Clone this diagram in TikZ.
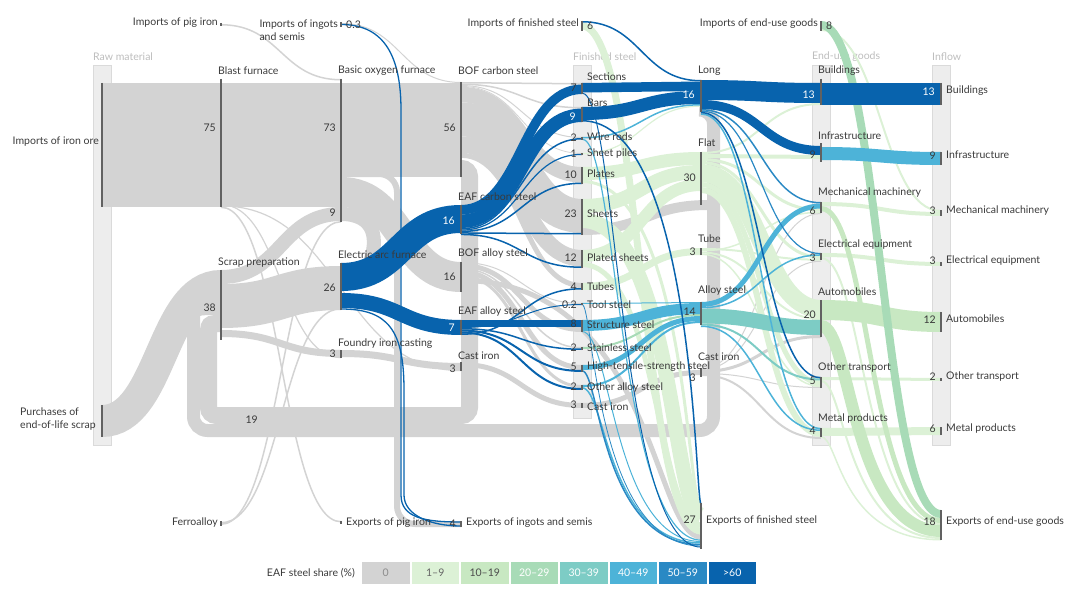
\documentclass[tikz,border=0pt]{standalone}
\usepackage{fontspec}
\setmainfont{Lato}
\usetikzlibrary{calc}

\definecolor{eaf0}{HTML}{D3D3D3}
\definecolor{eaf1}{HTML}{DCF1D6}
\definecolor{eaf2}{HTML}{C8E8C2}
\definecolor{eaf3}{HTML}{A8DBB7}
\definecolor{eaf4}{HTML}{7DCCC5}
\definecolor{eaf5}{HTML}{4DB3D8}
\definecolor{eaf6}{HTML}{2A89C4}
\definecolor{eaf7}{HTML}{0863AD}
\definecolor{ink}{HTML}{3A3A3A}
\definecolor{colbg}{HTML}{EDEDED}
\definecolor{colline}{HTML}{DADADA}
\definecolor{titlegrey}{HTML}{BDBDBD}

\newcommand{\lblfont}{\fontsize{10.5}{12.5}\selectfont}

\tikzset{
  knee/.store in=\kneefrac, knee=0.5,
  barline/.style={draw=black!62, line width=1.2pt},
  column/.style={fill=colbg, draw=colline, line width=0.5pt},
  coltitle/.style={anchor=west, inner sep=0pt, text=titlegrey, font=\lblfont},
  stagename/.style={anchor=west, inner sep=0pt, text=ink, font=\lblfont},
  sourcename/.style={anchor=east, inner sep=0pt, text=ink, font=\lblfont},
  amount/.style={anchor=east, inner sep=0pt, text=ink, font=\lblfont},
  keybox/.style={minimum width=47.5pt, minimum height=22.5pt, inner sep=0pt, font=\lblfont},
}

% a band: [colour] from node, offset, to node, offset, width
\newcommand{\steelflow}[6][]{%
  \draw[#1, line width=#6] let \p1=($(#2)+(0,#3+#6/2)$), \p2=($(#4)+(0,#5+#6/2)$),
    \p3=($(\p1)!\kneefrac!(\p2)$) in (\p1) .. controls (\x3,\y1) and (\x3,\y2) .. (\p2);}

% stages: name/x/top/height
\def\stagelist{ore/102/83/124, scrap/102/405/32,
  bf/221/79/128, prep/221/270/70, pigimp/221/23/3, ferro/221/521/5,
  bof/341/79/143, eaf/341/263/47, found/341/350/8, ingimp/341/22/5, pigexp/341/521/3,
  bofc/461/82/95, eafc/461/205/29, bofa/461/262/30, eafa/461/320/15, cast/461/362/9, ingexp/461/521/6,
  fsimp/582/21/10, sections/582/83/11, bars/582/107/15, wire/582/137/3, piles/582/153/2,
  plates/582/167/17, sheets/582/199/36, plated/582/250/18, tubes/582/283/7,
  tool/582/303/2, struct/582/320/12, stainl/582/347/3, hts/582/365/7, oalloy/582/385/5, fscast/582/403/5,
  long/701/80/32, flat/701/152/53, tube/701/248/7, alloy/701/302/23, cast2/701/368/9, fsexp/701/503/46,
  eugimp/821/21/10, bldg/821/79/26, infra/821/143/19, mm/821/202/11, ee/821/253/7,
  auto/821/300/37, ot/821/377/11, metal/821/428/9,
  inbldg/941/83/22, ininfra/941/152/13, inmm/941/210/6, inee/941/262/4,
  inauto/941/312/20, inot/941/378/3, inmetal/941/427/8, exeug/941/510/30}

\begin{document}
\begin{tikzpicture}[x=1pt, y=-1pt]
  \useasboundingbox (0,0) rectangle (1080,594);

  % Define the coordinates of the stages
  \foreach \name/\x/\y/\h in \stagelist
    \coordinate (\name) at (\x,\y);
  \coordinate (loopjoin) at (709,200);

  % Columns
  \draw[column] (93,65) rectangle (111,445);
  \draw[column] (573,65) rectangle (591,418);
  \draw[column] (812,65) rectangle (830,445);
  \draw[column] (932,65) rectangle (950,445);
  \node[coltitle] (rawtitle) at (93,57) {Raw material};
  \node[coltitle] (fstitle) at (573,57) {Finished steel};
  \node[coltitle] (eutitle) at (812,57) {End-use goods};
  \node[coltitle] (intitle) at (932,57) {Inflow};

  % Scrap loops
  \draw[eaf0, line width=13, rounded corners=14] ($(long)+(0,30)$) -- (713.5,110) -- (713.5,430.5)
    -- (193.5,430.5) -- (193.5,335) [sharp corners] .. controls (193.5,308.5) .. ($(prep)+(0,38.5)$);
  \draw[eaf0, line width=17, rounded corners=8] ($(bofc)+(0,86.5)$) -- (469.5,168.5) -- (469.5,415.5)
    -- (208.5,415.5) -- (208.5,345) [sharp corners] .. controls (208.5,323.5) .. ($(prep)+(0,53.5)$);
  \draw[eaf0, line width=6, rounded corners=18] ($(bof)+(0,95)$) -- (397,174) -- (397,524) -- ($(ingexp)+(0,3)$);
  \draw[eaf0, line width=14] ($(bof)+(0,135)$) .. controls (376,214) and (378,240) .. (370,262);

  % Grey flows (0 %)
  \steelflow[eaf0]{ore}{0}{bf}{4}{124}
  \steelflow[eaf0]{bf}{4}{bof}{4}{124}
  \steelflow[eaf0]{bof}{4}{bofc}{1}{94}
  \steelflow[eaf0]{bof}{98}{bofa}{0}{30}
  \steelflow[eaf0]{scrap}{0}{prep}{0}{32}
  \steelflow[eaf0]{prep}{0}{bof}{128}{14}
  \steelflow[eaf0]{prep}{14}{eaf}{3}{44}
  \steelflow[eaf0]{prep}{60}{found}{0}{7}
  \steelflow[eaf0]{found}{0}{cast}{1}{7}
  \steelflow[eaf0]{pigimp}{1}{bof}{0}{1.5}
  \steelflow[eaf0]{ingimp}{1}{bofc}{0}{1}
  \steelflow[eaf0]{bf}{125}{found}{7}{1.2}
  \steelflow[eaf0]{bf}{126.3}{cast}{8}{1.2}
  \steelflow[eaf0]{bf}{127.5}{pigexp}{0}{1.5}
  \steelflow[eaf0]{ferro}{1}{eaf}{45}{1.5}
  \steelflow[eaf0]{ferro}{2.5}{bof}{142}{1.5}
  \steelflow[eaf0]{bofc}{0}{sections}{0}{1.5}
  \steelflow[eaf0]{bofc}{1.5}{bars}{0}{1.5}
  \steelflow[eaf0]{bofc}{3}{wire}{0}{1}
  \steelflow[eaf0]{bofc}{4}{piles}{0}{0.8}
  \steelflow[eaf0]{bofc}{4.8}{plates}{0}{15.5}
  \steelflow[eaf0]{bofc}{20.3}{sheets}{0}{34}
  \steelflow[eaf0]{bofc}{54.3}{plated}{0}{16.5}
  \steelflow[eaf0]{bofc}{70.8}{tubes}{0}{5}
  \steelflow[eaf0]{bofa}{0}{tool}{0}{1}
  \steelflow[eaf0]{bofa}{1}{struct}{7}{5}
  \steelflow[eaf0]{bofa}{6}{stainl}{0}{1.5}
  \steelflow[eaf0]{bofa}{7.5}{hts}{0}{5}
  \steelflow[eaf0]{bofa}{12.5}{oalloy}{0}{3}
  \steelflow[eaf0, knee=0.8]{bofa}{16}{fsexp}{31.5}{5}
  \steelflow[eaf0]{cast}{0}{fscast}{0}{5}
  \steelflow[eaf0]{fscast}{0}{cast2}{2}{5}
  \steelflow[eaf0]{sheets}{26}{loopjoin}{0}{10}
  \steelflow[eaf0]{cast2}{0}{mm}{11}{1}
  \steelflow[eaf0]{cast2}{1}{ee}{7.7}{1}
  \steelflow[eaf0]{cast2}{2}{auto}{35}{3}
  \steelflow[eaf0]{cast2}{5}{ot}{10}{1}
  \steelflow[eaf0]{cast2}{6}{metal}{9}{2}

  % 1-9 %
  \steelflow[eaf1]{fsimp}{1.5}{fsexp}{24.5}{7}
  \steelflow[eaf1, knee=0.88]{plates}{13}{fsexp}{1.5}{3}
  \steelflow[eaf1, knee=0.76]{sheets}{14}{fsexp}{4.5}{15}
  \steelflow[eaf1, knee=0.64]{plated}{12}{fsexp}{19.5}{5}
  \steelflow[eaf1]{plates}{0}{flat}{0}{13}
  \steelflow[eaf1]{sheets}{0}{flat}{13}{14}
  \steelflow[eaf1]{plated}{0}{flat}{27}{12}
  \steelflow[eaf1]{tubes}{0}{tube}{0}{7}
  \steelflow[eaf1]{piles}{0}{long}{25.5}{1.2}
  \steelflow[eaf1]{flat}{0}{bldg}{24}{2}
  \steelflow[eaf1]{flat}{2}{infra}{12}{4}
  \steelflow[eaf1]{flat}{6}{mm}{6.5}{3}
  \steelflow[eaf1]{flat}{9}{ee}{2.7}{3}
  \steelflow[eaf1]{flat}{12}{auto}{0}{18}
  \steelflow[eaf1]{flat}{30}{ot}{3.5}{5}
  \steelflow[eaf1]{flat}{35}{metal}{3}{6}
  \steelflow[eaf1]{tube}{0}{ee}{5.7}{2}
  \steelflow[eaf1]{tube}{2}{mm}{9.5}{1.5}
  \steelflow[eaf1]{tube}{3.5}{auto}{18}{2}
  \steelflow[eaf1]{tube}{5.5}{ot}{8.5}{1.5}
  \steelflow[eaf1]{mm}{0}{inmm}{2}{4}
  \steelflow[eaf1]{ee}{0}{inee}{0}{4}
  \steelflow[eaf1]{ot}{0}{inot}{0}{3}
  \steelflow[eaf1]{metal}{0}{inmetal}{0}{8}
  \steelflow[eaf1, knee=0.35]{ee}{4}{exeug}{13}{2}
  \steelflow[eaf1, knee=0.2]{ot}{3}{exeug}{27}{2}
  \steelflow[eaf1, knee=0.15]{metal}{8}{exeug}{29}{1.5}
  \steelflow[eaf1]{eugimp}{8}{inmm}{0}{2}

  % 10-19 % and 20-29 %
  \steelflow[eaf2]{auto}{0}{inauto}{0}{20}
  \steelflow[eaf2, knee=0.25]{auto}{20}{exeug}{15}{12}
  \steelflow[eaf2, knee=0.4]{mm}{4}{exeug}{8}{5}
  \steelflow[eaf3]{eugimp}{0}{exeug}{0}{8}
  \steelflow[eaf3]{stainl}{0}{alloy}{12}{2}

  % 30-39 % and 40-49 %
  \steelflow[eaf4]{alloy}{6.5}{auto}{20}{15}
  \steelflow[eaf4]{alloy}{21.5}{ot}{1.5}{2}
  \steelflow[eaf5]{struct}{0}{alloy}{1}{11}
  \steelflow[eaf5]{tool}{0}{alloy}{0}{1}
  \steelflow[eaf5]{hts}{0}{alloy}{14}{5}
  \steelflow[eaf5]{oalloy}{0}{alloy}{19}{2}
  \steelflow[eaf5]{wire}{0}{long}{24}{1.5}
  \steelflow[eaf5]{alloy}{0}{mm}{1.5}{5}
  \steelflow[eaf5]{alloy}{5}{ee}{1.2}{1.5}
  \steelflow[eaf5]{alloy}{23.5}{metal}{1.5}{1.5}
  \steelflow[eaf5]{long}{33.2}{metal}{0}{1.5}
  \steelflow[eaf5]{infra}{4}{ininfra}{0}{13}
  \steelflow[eaf5, knee=0.3]{wire}{1.5}{fsexp}{36.5}{1.2}
  \steelflow[eaf5, knee=0.25]{struct}{11}{fsexp}{38}{1}
  \steelflow[eaf5, knee=0.2]{oalloy}{2}{fsexp}{39.2}{1.5}

  % 50-59 %
  \steelflow[eaf6]{long}{29}{mm}{0}{1.5}
  \steelflow[eaf6]{long}{30.5}{ee}{0}{1.2}
  \steelflow[eaf6, knee=0.15]{hts}{5}{fsexp}{40.9}{1.5}
  \steelflow[eaf6, knee=0.1]{tool}{1}{fsexp}{42.6}{0.8}

  % over 60 %
  \draw[eaf7, line width=1.3] ($(ingimp)+(0,2.5)$) .. controls (380,24.5) and (401,50) .. (401,110)
    -- (401,495) .. controls (401,518) and (425,522) .. ($(ingexp)+(0,1)$);
  \draw[eaf7, line width=1.3] ($(eaf)+(0,46)$) .. controls (388,309) and (404,330) .. (404,390)
    -- (404,495) .. controls (404,515) and (430,526) .. ($(ingexp)+(0,5)$);
  \steelflow[eaf7]{eaf}{0}{eafc}{0}{28}
  \steelflow[eaf7]{eaf}{30}{eafa}{0}{15}
  \steelflow[eaf7]{eafc}{0}{sections}{1.5}{9.5}
  \steelflow[eaf7]{eafc}{9.5}{bars}{1.5}{13.5}
  \steelflow[eaf7]{eafc}{23}{wire}{1}{1.5}
  \steelflow[eaf7]{eafc}{24.5}{piles}{0.8}{1.2}
  \steelflow[eaf7]{eafc}{25.7}{plates}{15.5}{1.5}
  \steelflow[eaf7]{eafc}{27.2}{sheets}{34}{1.5}
  \steelflow[eaf7]{eafc}{28.7}{plated}{16.5}{1.5}
  \steelflow[eaf7]{eafa}{0}{struct}{0}{7}
  \steelflow[eaf7]{eafa}{7}{tool}{1}{1}
  \steelflow[eaf7]{eafa}{8}{stainl}{1.5}{1.5}
  \steelflow[eaf7]{eafa}{9.5}{hts}{5}{2}
  \steelflow[eaf7]{eafa}{11.5}{oalloy}{3}{2}
  \steelflow[eaf7]{eafa}{13.5}{tubes}{5}{1.5}
  \steelflow[eaf7]{fsimp}{0}{long}{0}{1.5}
  \steelflow[eaf7]{sections}{0}{long}{1.5}{9.5}
  \steelflow[eaf7]{bars}{0}{long}{11}{13}
  \steelflow[eaf7, knee=0.95]{bars}{13}{fsexp}{0}{1.5}
  \steelflow[eaf7, knee=0.3]{sections}{9.5}{fsexp}{43.6}{1}
  \steelflow[eaf7]{long}{0}{bldg}{4}{20}
  \steelflow[eaf7]{long}{20}{infra}{3}{9}
  \steelflow[eaf7]{long}{31.7}{ot}{0}{1.5}
  \steelflow[eaf7]{bldg}{4}{inbldg}{0}{22}

  % Draw the stage bars
  \foreach \name/\x/\y/\h in \stagelist
    \draw[barline] (\name) -- ++(0,\h);

  % Stage names above the bars
  \foreach \name/\dy/\txt in {bf/-8/Blast furnace, bof/-8/Basic oxygen furnace,
      bofc/-11/BOF carbon steel, eafc/-8/EAF carbon steel, bofa/-8/BOF alloy steel,
      eafa/-8/EAF alloy steel, cast/-6/Cast iron, prep/-7/Scrap preparation,
      eaf/-8/Electric arc furnace, found/-6/Foundry iron casting,
      long/-9/Long, flat/-9/Flat, tube/-9/Tube, alloy/-11/Alloy steel, cast2/-11/Cast iron,
      bldg/-8/Buildings, infra/-7/Infrastructure, mm/-9/Mechanical machinery,
      ee/-8/Electrical equipment, auto/-8/Automobiles, ot/-9/Other transport, metal/-9/Metal products}
    \node[stagename] (name-\name) at ($(\name)+(-3,\dy)$) {\txt};

  % Names right of the bars
  \foreach \name/\dy/\txt in {sections/-6/Sections, bars/-4/Bars, wire/0/Wire rods,
      piles/1/Sheet piles, plates/7/Plates, sheets/15/Sheets, plated/8/Plated sheets,
      tubes/4/Tubes, tool/2/Tool steel, struct/5/Structure steel, stainl/1/Stainless steel,
      hts/2/High-tensile-strength steel, oalloy/3/Other alloy steel, fscast/4/Cast iron,
      fsexp/18/Exports of finished steel, pigexp/2/Exports of pig iron,
      ingexp/2/Exports of ingots and semis,
      inbldg/8/Buildings, ininfra/3/Infrastructure, inmm/1/Mechanical machinery,
      inee/-1/Electrical equipment, inauto/7/Automobiles, inot/-1/Other transport,
      inmetal/2/Metal products, exeug/12/Exports of end-use goods,
      ingimp/3/0.3, fsimp/5/6, eugimp/5/8}
    \node[stagename] (side-\name) at ($(\name)+(5,\dy)$) {\txt};

  % Names left of the bars
  \foreach \name/\dy/\txt in {ore/59/Imports of iron ore, pigimp/0/Imports of pig iron,
      ferro/2/Ferroalloy, fsimp/3/Imports of finished steel, eugimp/3/Imports of end-use goods}
    \node[sourcename] (src-\name) at ($(\name)+(-3,\dy)$) {\txt};
  \node[sourcename, align=left] (src-scrap) at ($(scrap)+(-6,14)$) {Purchases of\\end-of-life scrap};
  \node[sourcename, align=left] (src-ingimp) at ($(ingimp)+(-3,8)$) {Imports of ingots\\and semis};

  % Amounts
  \foreach \name/\dy/\val in {bf/49/75, bof/49/73, bof/134/9, bofc/46/56, bofa/15/16, cast/7/3,
      prep/38/38, eaf/25/26, found/4/3, ingexp/3/4, sections/5/7, wire/1/2, piles/1/1,
      plates/8/10, sheets/15/23, plated/8/12, tubes/4/4, tool/2/0.2, struct/4/8, stainl/1/2,
      hts/2/5, oalloy/2/2, fscast/2/3, fsexp/17/27, flat/26/30, tube/4/3, alloy/10/14,
      cast2/10/3, infra/12/9, mm/9/6, ee/5/3, auto/15/20, ot/4/5, metal/3/4,
      ininfra/4/9, inmm/1/3, inee/-1/3, inauto/8/12, inot/-1/2, inmetal/2/6, exeug/12/18}
    \node[amount] (v\name\dy) at ($(\name)+(-5,\dy)$) {\val};
  \foreach \name/\dy/\val in {eafc/16/16, eafa/8/7, bars/10/9, long/15/16, bldg/16/13, inbldg/9/13}
    \node[amount, text=white] (w\name\dy) at ($(\name)+(-6,\dy)$) {\val};
  \node[amount] (v19) at (258,420) {19};

  % Legend
  \node[sourcename] (keytitle) at (355,573) {EAF steel share (\%)};
  \foreach \i/\txt/\tc in {0/0/black!45, 1/1--9/black!60, 2/10--19/black!70, 3/20--29/white,
      4/30--39/white, 5/40--49/white, 6/50--59/white!85, 7/>60/white}
    \node[keybox, fill=eaf\i, text=\tc] (key\i) at ({385.75+49.5*\i},573) {\txt};
\end{tikzpicture}
\end{document}
